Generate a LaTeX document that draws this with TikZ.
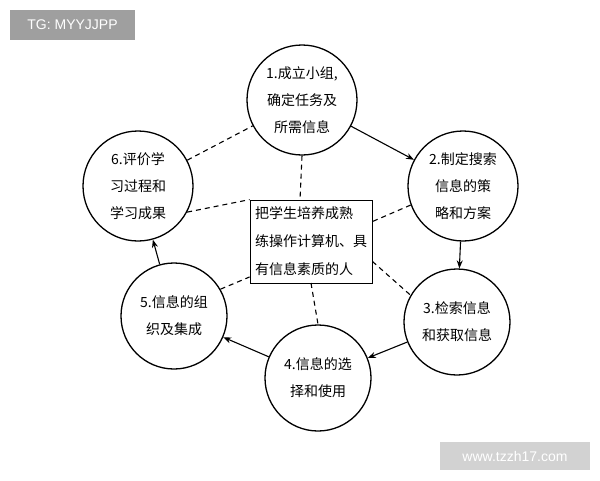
\documentclass[tikz,border=0pt]{standalone}
\usepackage{fontspec}
\newfontfamily\cjk{Noto Sans CJK SC}
\usetikzlibrary{arrows.meta}
\begin{document}
\begin{tikzpicture}[x=1pt,y=-1pt,
  stage/.style={circle,draw,line width=1.3pt,minimum size=110pt,inner sep=0pt,align=center,font=\cjk\fontsize{14}{27}\selectfont},
  dline/.style={line width=1.1pt,dash pattern=on 5pt off 4pt},
  flow/.style={-{Stealth[length=8pt,width=6pt]},line width=1.1pt},
  tag/.style={fill=#1,text=white,font=\fontspec{Liberation Sans}\fontsize{14}{16}\selectfont,inner sep=0pt}]
\useasboundingbox (0,0) rectangle (600,480);
\fill[white] (0,0) rectangle (600,480);
\node[stage] (c1) at (302,100) {1.成立小组,\\确定任务及\\所需信息};
\node[stage] (c2) at (463,186) {2.制定搜索\\信息的策\\略和方案};
\node[stage,minimum size=106pt] (c3) at (457,322) {3.检索信息\\和获取信息};
\node[stage,minimum size=106pt] (c4) at (318,378) {4.信息的选\\择和使用};
\node[stage,minimum size=106pt] (c5) at (174,316) {5.信息的组\\织及集成};
\node[stage] (c6) at (138,186) {6.评价学\\习过程和\\学习成果};
\node[draw,line width=0.8pt,minimum width=122pt,minimum height=83pt,inner sep=2pt,align=left,font=\cjk\fontsize{14}{28}\selectfont] (b) at (311,241.5) {把学生培养成熟\\练操作计算机、具\\有信息素质的人};
\coordinate (bt) at (300,200);
\coordinate (bb) at (311,283);
\draw[dline] (c6) -- (c1);
\draw[dline] (c6.-28) -- (b.north west);
\draw[dline] (c1.south) -- (bt);
\draw[dline] (c2.200) -- (b.18);
\draw[dline] (b.-18) -- (c3.150);
\draw[dline] (bb) -- (c4.north);
\draw[dline] (c5.30) -- (b.-150);
\draw[flow] (c1) -- (c2);
\draw[flow] (c2) -- (c3);
\draw[flow] (c3) -- (c4);
\draw[flow] (c4) -- (c5);
\draw[flow] (c5) -- (c6);
\node[tag=gray!75,minimum width=125pt,minimum height=30pt] (t1) at (72.5,25) {TG: MYYJJPP};
\node[tag=gray!35,minimum width=150pt,minimum height=28pt] (t2) at (515,456) {www.tzzh17.com};
\end{tikzpicture}
\end{document}
